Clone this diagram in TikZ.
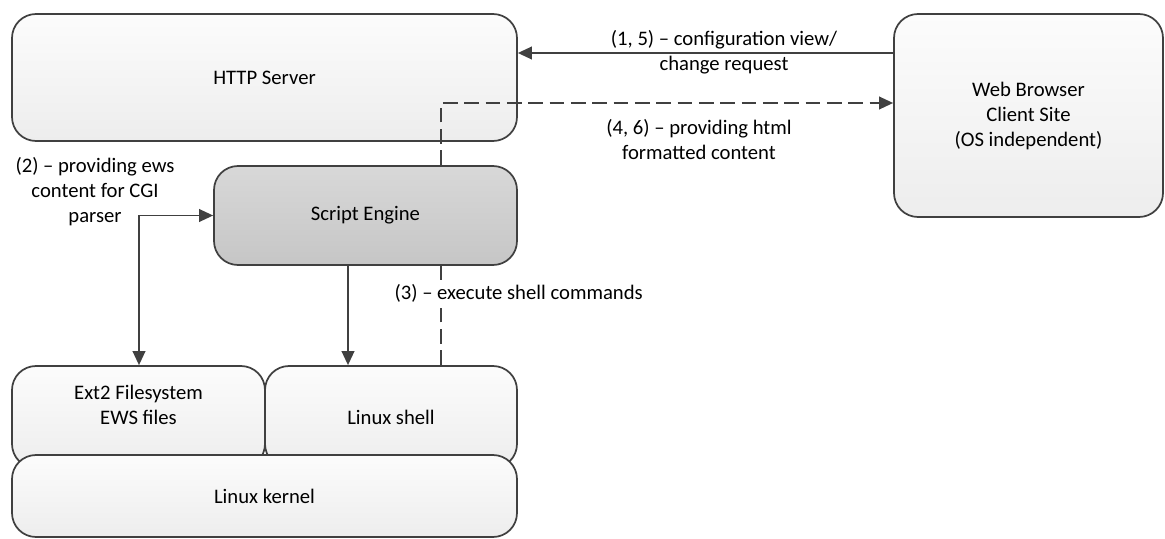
\documentclass[tikz,border=0pt]{standalone}
\usepackage{fontspec}
\setmainfont{Carlito}
\usetikzlibrary{arrows.meta}
\definecolor{ln}{HTML}{404040}
\definecolor{lt}{HTML}{FCFCFC}
\definecolor{lb}{HTML}{EDEDED}
\definecolor{dt}{HTML}{D8D8D8}
\definecolor{db}{HTML}{C6C6C6}
\tikzset{
  box/.style={draw=ln, line width=1.3pt, rounded corners=18pt, inner sep=0pt,
    top color=lt, bottom color=lb, align=center, font=\fontsize{15.5}{18.75}\selectfont},
  darkbox/.style={box, top color=dt, bottom color=db},
  txt/.style={align=center, inner sep=1pt, font=\fontsize{15.5}{18.75}\selectfont},
  con/.style={draw=ln, line width=1.3pt},
  arr/.style={con, -{Triangle[length=10.5pt,width=9.5pt]}},
  arrboth/.style={con, {Triangle[length=10.5pt,width=9.5pt]}-{Triangle[length=10.5pt,width=9.5pt]}},
  dsh/.style={con, dash pattern=on 11pt off 5pt},
}
\begin{document}
\begin{tikzpicture}[x=0.75pt, y=-0.75pt]
\useasboundingbox (0,0) rectangle (1165,539);
% boxes
\node[box, minimum width=378.75pt, minimum height=95.25pt] (http) at (264.5,77.5) {HTTP Server};
\node[box, minimum width=201.75pt, minimum height=152.25pt] (web) at (1028.5,115.5) {Web Browser\\Client Site\\(OS independent)};
\node[darkbox, minimum width=227.25pt, minimum height=74.25pt] (script) at (365.5,215.5) {Script Engine};
\node[box, minimum width=189.75pt, minimum height=76.5pt] (ext2) at (138.5,417) {};
\node[box, minimum width=189pt, minimum height=76.5pt] (shell) at (391,417) {Linux shell};
\node[txt] (ext2t) at (138.5,404.5) {Ext2 Filesystem\\EWS files};
\node[box, minimum width=378.75pt, minimum height=61.5pt] (kernel) at (264.5,496) {Linux kernel};
% connectors
\draw[arr] (web.west |- 0,53) -- (http.east |- 0,53);
\node[txt] (l15) at (724,52) {(1, 5) – configuration view/\\change request};
\draw[dsh, arr] (script.north -| 441,0) |- (web.west |- 0,103);
\node[txt] (l46) at (699,139.5) {(4, 6) – providing html\\formatted content};
\draw[arrboth] (script.west) -| (ext2.north -| 139,0);
\node[txt] (l2) at (95,192) {(2) – providing ews\\content for CGI\\parser};
\draw[arr] (script.south -| 348,0) -- (shell.north -| 348,0);
\draw[dsh] (shell.north -| 441,0) -- (script.south -| 441,0);
\node[txt, fill=white, anchor=west] (l3) at (393,293) {(3) – execute shell commands};
\end{tikzpicture}
\end{document}
